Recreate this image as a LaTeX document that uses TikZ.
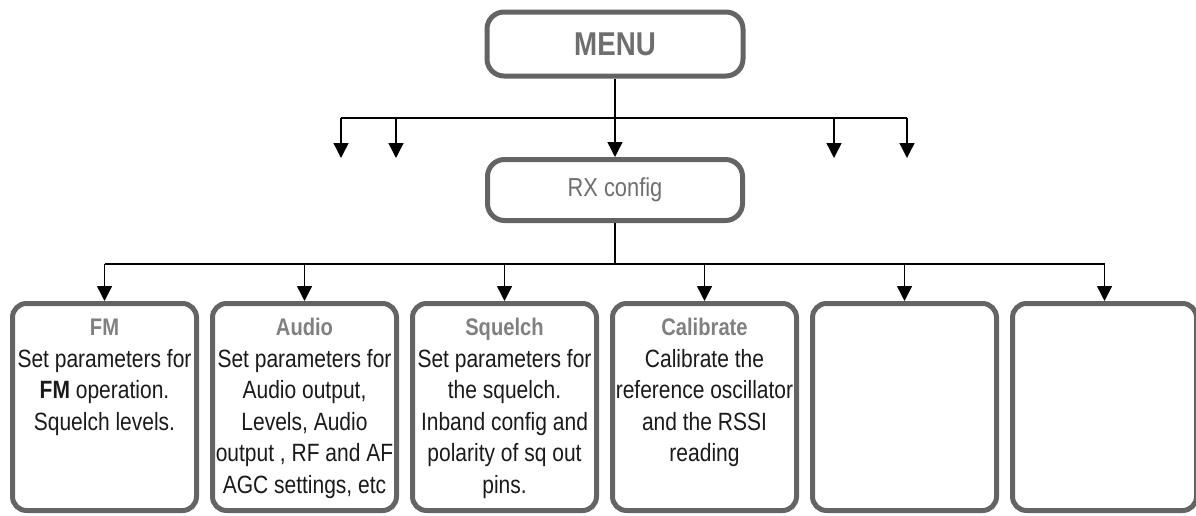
\documentclass[tikz,border=0pt]{standalone}
\usepackage{fontspec}
\setmainfont{Liberation Sans}[FakeStretch=0.84]
\usetikzlibrary{arrows.meta}
\definecolor{boxgray}{HTML}{646464}
\definecolor{titlegray}{HTML}{808080}
\definecolor{menugray}{HTML}{6E6E6E}
\definecolor{bodyblack}{HTML}{1A1A1A}

\begin{document}
\begin{tikzpicture}[x=1pt,y=-1pt,
  topbox/.style={draw=boxgray, line width=5pt, rounded corners=17pt,
    minimum width=256pt, minimum height=64pt, inner sep=0pt},
  itembox/.style={draw=boxgray, line width=5pt, rounded corners=14pt,
    minimum width=184pt, minimum height=207pt, inner sep=0pt},
  link/.style={line width=1.4pt, black},
  arr/.style={link, -{Triangle[width=15pt,length=15pt]}},
  itemtext/.style={anchor=north, inner sep=0pt, align=center,
    font=\fontsize{25}{31.5}\selectfont, text=bodyblack}]
\useasboundingbox (0,0) rectangle (1196,515);

% top level menu and the RX configuration entry
\node[topbox, text=menugray, font=\fontsize{33}{35}\selectfont\bfseries] (menu) at (615,44) {MENU};
\node[topbox, minimum width=255pt, minimum height=61pt, text=menugray,
  font=\fontsize{26}{28}\selectfont] (rx) at (615,190) {RX config};

% upper distribution bus
\coordinate (u1) at (341,118);
\coordinate (u2) at (396,118);
\coordinate (u4) at (834,118);
\coordinate (u5) at (907,118);
\coordinate (e1) at (341,158);
\coordinate (e2) at (396,158);
\coordinate (e4) at (834,158);
\coordinate (e5) at (907,158);
\draw[link] (u1) -- (u5);
\draw[arr] (menu.south) -- (rx.north);
\foreach \i in {1,2,4,5} \draw[arr] (u\i) -- (e\i);

% sub menu boxes of RX config
\foreach \i in {1,...,6}
  \node[itembox] (b\i) at ({104.5+200*(\i-1)},407) {};

% lower distribution bus
\coordinate (lb) at (615,264);
\coordinate (l1) at (104.5,264);
\coordinate (l6) at (1104.5,264);
\draw[link] (rx.south) -- (lb);
\draw[link] (l1) -- (l6);
\foreach \i in {1,...,6}
  \draw[arr] (b\i.north |- lb) -- (b\i.north);

% texts of the sub menu boxes
\newcommand{\boxtitle}[1]{\rule{0pt}{18pt}{\fontsize{24}{31.5}\selectfont\bfseries\color{titlegray}#1}}
\node[itemtext] (t1) at (104.5,317.5) {\boxtitle{FM}\\Set parameters for\\{\bfseries FM} operation.\\Squelch levels.};
\node[itemtext] (t2) at (304.5,317.5) {\boxtitle{Audio}\\Set parameters for\\Audio output,\\Levels, Audio\\output , RF and AF\\AGC settings, etc};
\node[itemtext] (t3) at (504.5,317.5) {\boxtitle{Squelch}\\Set parameters for\\the squelch.\\Inband config and\\polarity of sq out\\pins.};
\node[itemtext] (t4) at (704.5,317.5) {\boxtitle{Calibrate}\\Calibrate the\\reference oscillator\\and the RSSI\\reading};
\end{tikzpicture}
\end{document}
